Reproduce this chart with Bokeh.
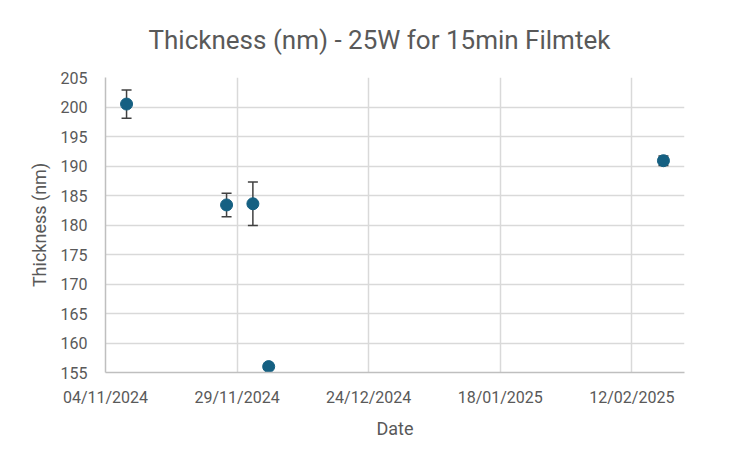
import pandas as pd
from bokeh.plotting import figure
from bokeh.models import ColumnDataSource, Whisker, TeeHead, FixedTicker, DatetimeTickFormatter, Range1d
from bokeh.embed import file_html
from bokeh.resources import INLINE

dates = ["2024-11-08", "2024-11-27", "2024-12-02", "2024-12-05", "2025-02-18"]
thickness = [200.5, 183.4, 183.6, 156.0, 190.9]
err = [2.4, 2.0, 3.7, 0.0, 0.8]
tick_dates = ["2024-11-04", "2024-11-29", "2024-12-24", "2025-01-18", "2025-02-12"]
y_ticks = [155, 160, 165, 170, 175, 180, 185, 190, 195, 200, 205]

x = pd.to_datetime(dates)
src = ColumnDataSource(dict(
    x=x, y=thickness,
    lo=[t - e for t, e in zip(thickness, err)],
    hi=[t + e for t, e in zip(thickness, err)],
))

FONT = "Roboto"
TXT = "#595959"

p = figure(width=735, height=449, output_backend="svg", toolbar_location=None,
           x_axis_type="datetime",
           x_range=Range1d(pd.Timestamp("2024-11-04"), pd.Timestamp("2025-02-22")),
           y_range=Range1d(155, 205),
           min_border_left=105, min_border_right=51, min_border_top=77, min_border_bottom=77)

p.title.text = "Thickness (nm) - 25W for 15min Filmtek"
p.title.align = "left"
p.title.text_font = FONT
p.title.text_font_size = "26px"
p.title.text_font_style = "normal"
p.title.text_color = TXT
p.title.offset = 43
p.title.standoff = 45

p.outline_line_color = None
p.xaxis.ticker = FixedTicker(ticks=[pd.Timestamp(d).value / 1e6 for d in tick_dates])
p.xaxis.formatter = DatetimeTickFormatter(days="%d/%m/%Y", months="%d/%m/%Y", years="%d/%m/%Y")
p.yaxis.ticker = FixedTicker(ticks=y_ticks)

for ax in (p.xaxis, p.yaxis):
    ax.axis_line_color = "#bfbfbf"
    ax.axis_line_width = 1.5
    ax.major_tick_line_color = None
    ax.minor_tick_line_color = None
    ax.major_label_text_font = FONT
    ax.major_label_text_font_size = "16px"
    ax.major_label_text_color = TXT
    ax.axis_label_text_font = FONT
    ax.axis_label_text_font_size = "18px"
    ax.axis_label_text_font_style = "normal"
    ax.axis_label_text_color = TXT

p.xaxis.axis_label = "Date"
p.yaxis.axis_label = "Thickness (nm)"
p.xaxis.major_label_standoff = 9
p.yaxis.major_label_standoff = 12
p.xaxis.axis_label_standoff = 8
p.yaxis.axis_label_standoff = 8

p.xgrid.grid_line_color = "#d9d9d9"
p.ygrid.grid_line_color = "#d9d9d9"
p.xgrid.grid_line_width = 1.5
p.ygrid.grid_line_width = 1.5

w = Whisker(source=src, base="x", lower="lo", upper="hi", line_color="#404040", line_width=1.5,
            upper_head=TeeHead(size=10, line_color="#404040", line_width=1.5),
            lower_head=TeeHead(size=10, line_color="#404040", line_width=1.5))
p.add_layout(w)
p.scatter("x", "y", source=src, size=12, fill_color="#156082", line_color="#156082")

open("out.html", "w").write(file_html(p, INLINE))
